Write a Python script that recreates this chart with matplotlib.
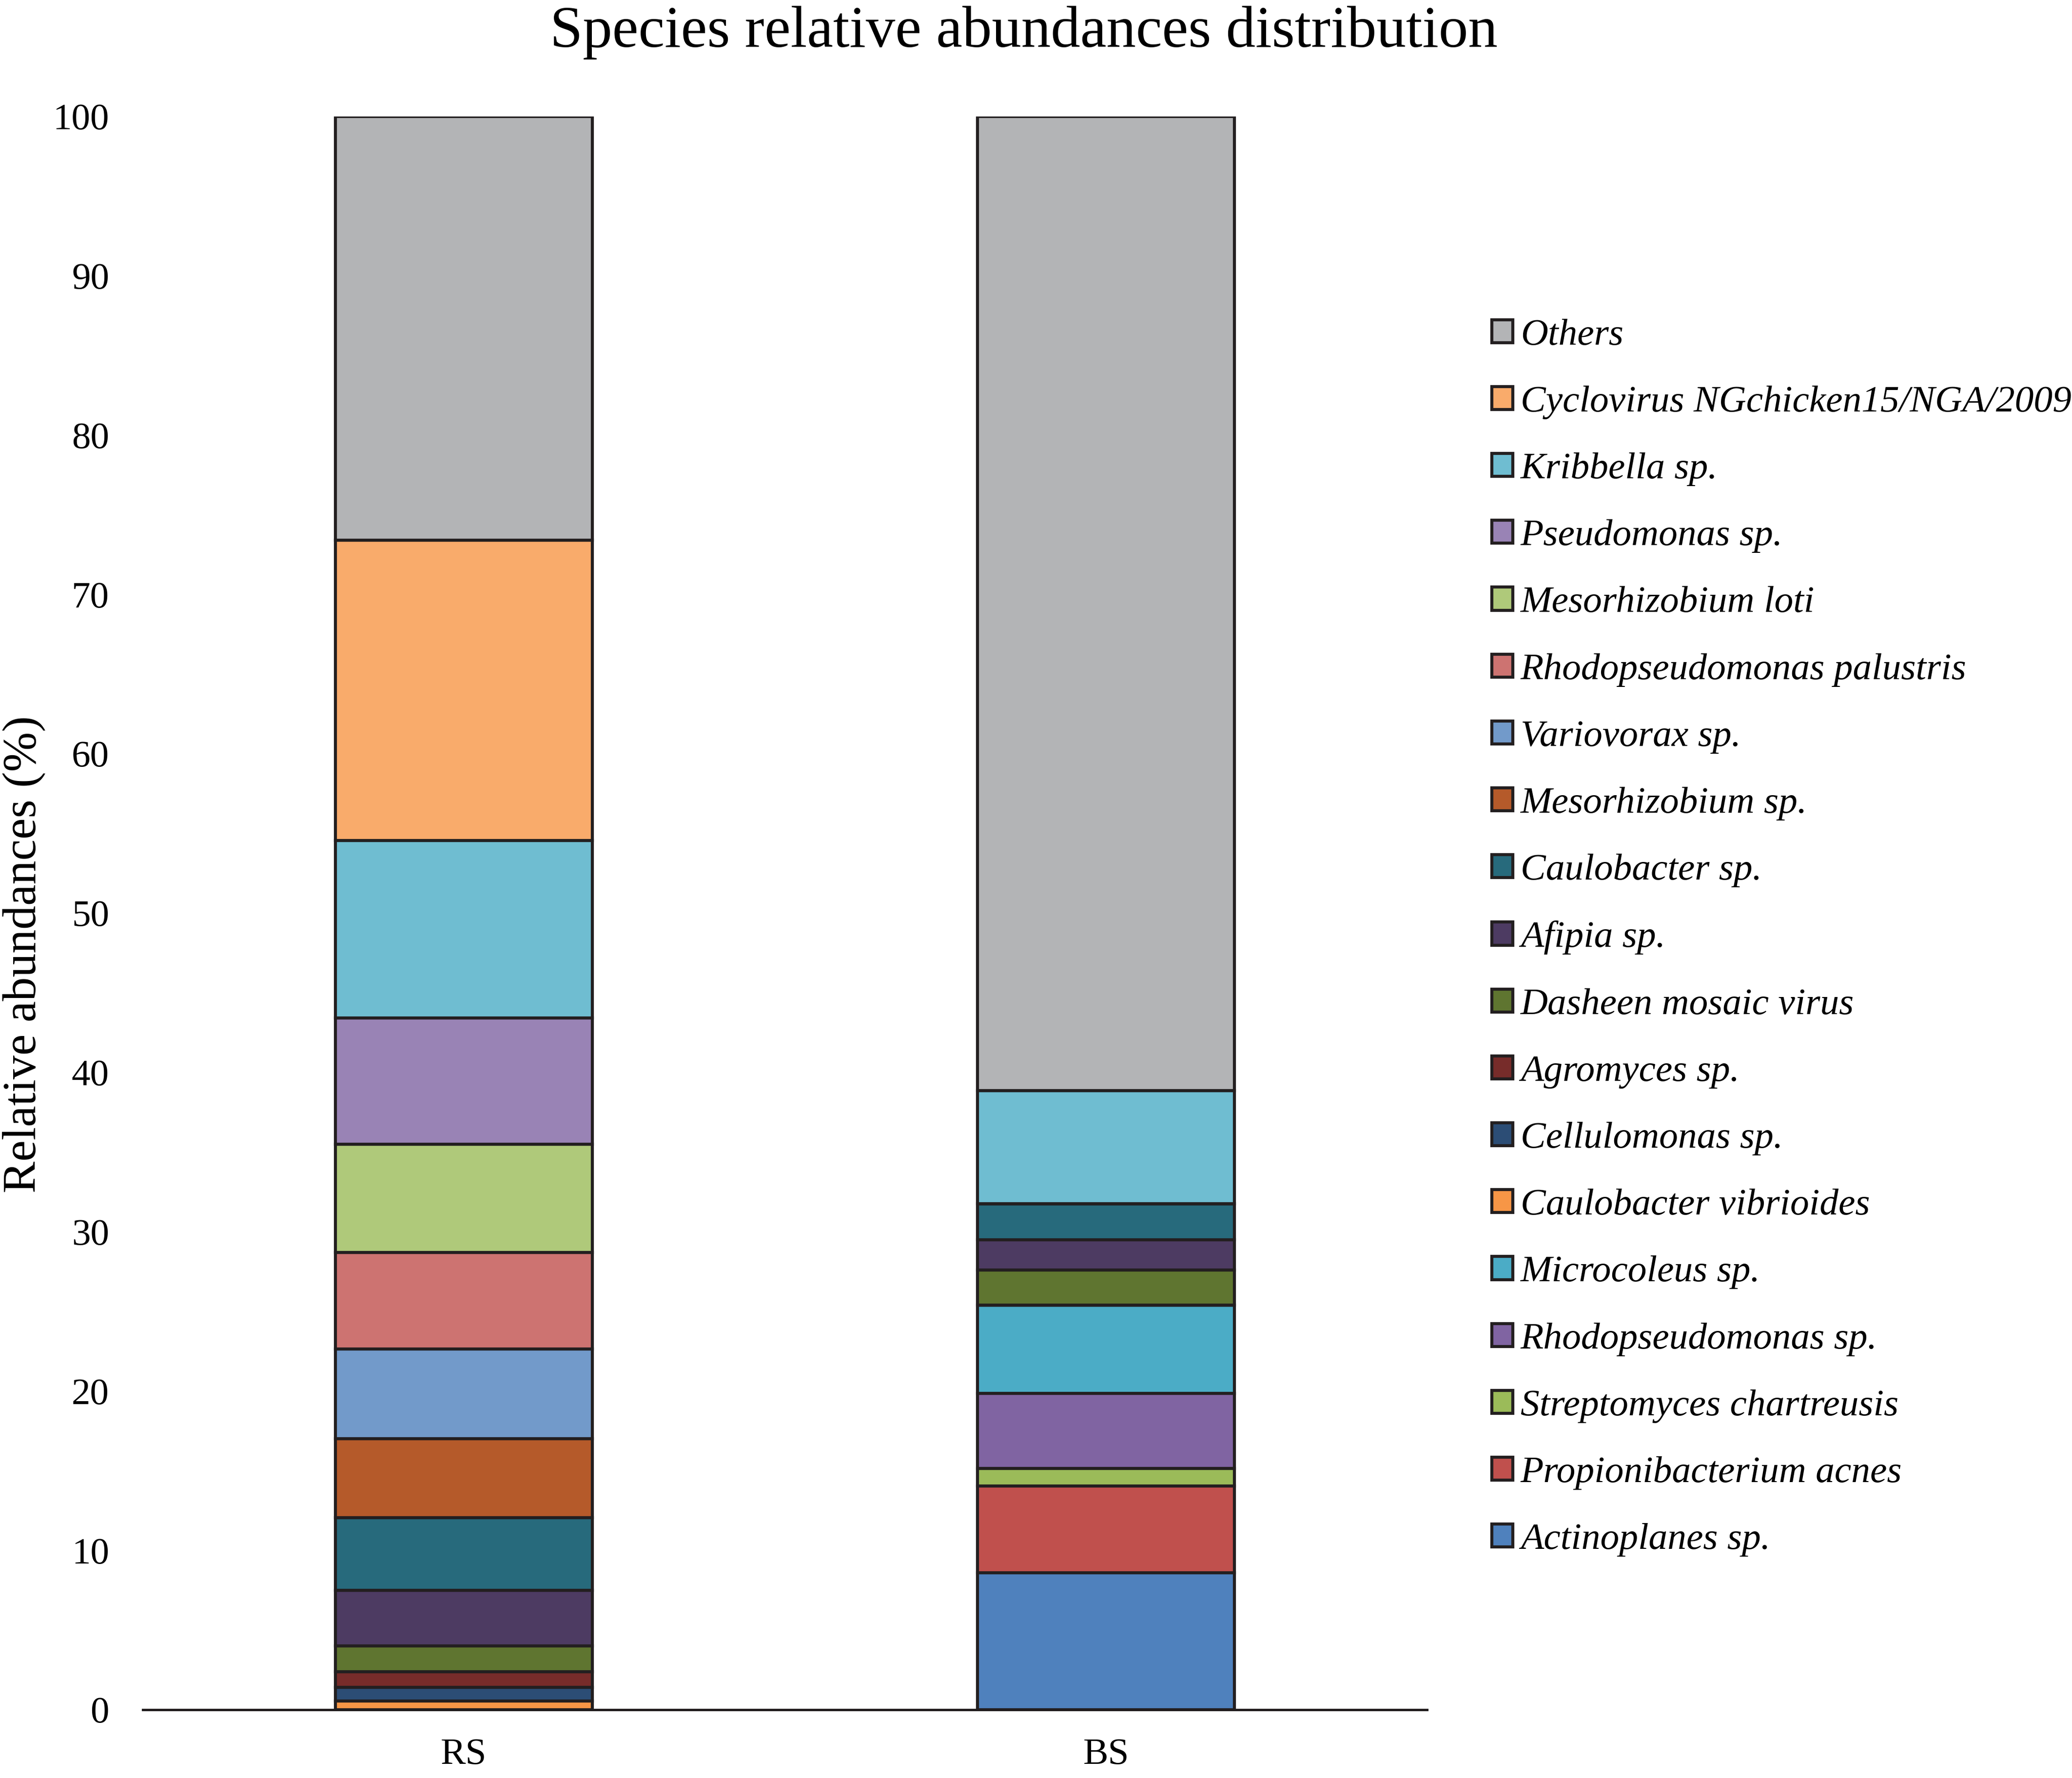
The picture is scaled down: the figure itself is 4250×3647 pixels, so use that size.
import numpy as np
import matplotlib
matplotlib.use('Agg')
import matplotlib.pyplot as plt

plt.rcParams['font.family'] = ['Liberation Serif', 'DejaVu Serif']

samples = ['RS', 'BS']

# stacking order, bottom to top
species = ['Actinoplanes sp.', 'Propionibacterium acnes', 'Streptomyces chartreusis',
           'Rhodopseudomonas sp.', 'Microcoleus sp.', 'Caulobacter vibrioides',
           'Cellulomonas sp.', 'Agromyces sp.', 'Dasheen mosaic virus', 'Afipia sp.',
           'Caulobacter sp.', 'Mesorhizobium sp.', 'Variovorax sp.',
           'Rhodopseudomonas palustris', 'Mesorhizobium loti', 'Pseudomonas sp.',
           'Kribbella sp.', 'Cyclovirus NGchicken15/NGA/2009', 'Others']

rs_values = [0, 0, 0, 0, 0, 0.55, 0.85, 1.0, 1.6, 3.5,
             4.55, 4.95, 5.65, 6.05, 6.8, 7.9, 11.15, 18.85, 26.6]
bs_values = [8.6, 5.45, 1.1, 4.7, 5.55, 0, 0, 0, 2.2, 1.9,
             2.25, 0, 0, 0, 0, 0, 7.1, 0, 61.15]

colors = ['#4F81BD', '#C0504D', '#9BBB59', '#8064A2', '#4BACC6', '#F79646',
          '#2C4D75', '#772C2A', '#5F7530', '#4D3B62', '#276A7C', '#B55A2A',
          '#729ACA', '#CD7371', '#AFC97A', '#9983B5', '#6FBDD1', '#F9AB6B',
          '#B3B4B6']

edge = '#231F20'

fig = plt.figure(figsize=(4250 / 300, 3647 / 300), dpi=300)
ax = fig.add_axes([0.0689, 0.0384, 0.6198, 0.8962])

x = np.arange(len(samples))
bottom = np.zeros(len(samples))
handles = []
for name, rs, bs, c in zip(species, rs_values, bs_values, colors):
    vals = np.array([rs, bs])
    bars = ax.bar(x, vals, 0.4, bottom=bottom, color=c, edgecolor=edge,
                  linewidth=1.5, label=name)
    handles.append(bars)
    bottom += vals

ax.set_xlim(-0.5, 1.5)
ax.set_ylim(0, 100)
ax.set_yticks(range(0, 101, 10))
ax.set_xticks(x)
ax.set_xticklabels(samples)
ax.tick_params(axis='y', length=0, pad=16.5, labelsize=18.5)
ax.tick_params(axis='x', length=0, pad=14, labelsize=18.5)

for s in ['top', 'right', 'left']:
    ax.spines[s].set_visible(False)
ax.spines['bottom'].set_linewidth(1.2)
ax.spines['bottom'].set_color(edge)

ax.set_ylabel('Relative abundances (%)', fontsize=23.5, va='center')
ax.yaxis.set_label_coords(-0.0926, 0.474)

fig.text(0.494, 0.9815, 'Species relative abundances distribution',
         fontsize=29, ha='center', va='center')

fig.legend(handles[::-1], species[::-1], loc='upper left',
           bbox_to_anchor=(0.72, 0.8208), frameon=False,
           prop={'style': 'italic', 'size': 18.6},
           handlelength=0.56, handleheight=0.56, handletextpad=0.2,
           labelspacing=0.88, borderpad=0, borderaxespad=0)

fig.savefig('out.png', dpi=300)
